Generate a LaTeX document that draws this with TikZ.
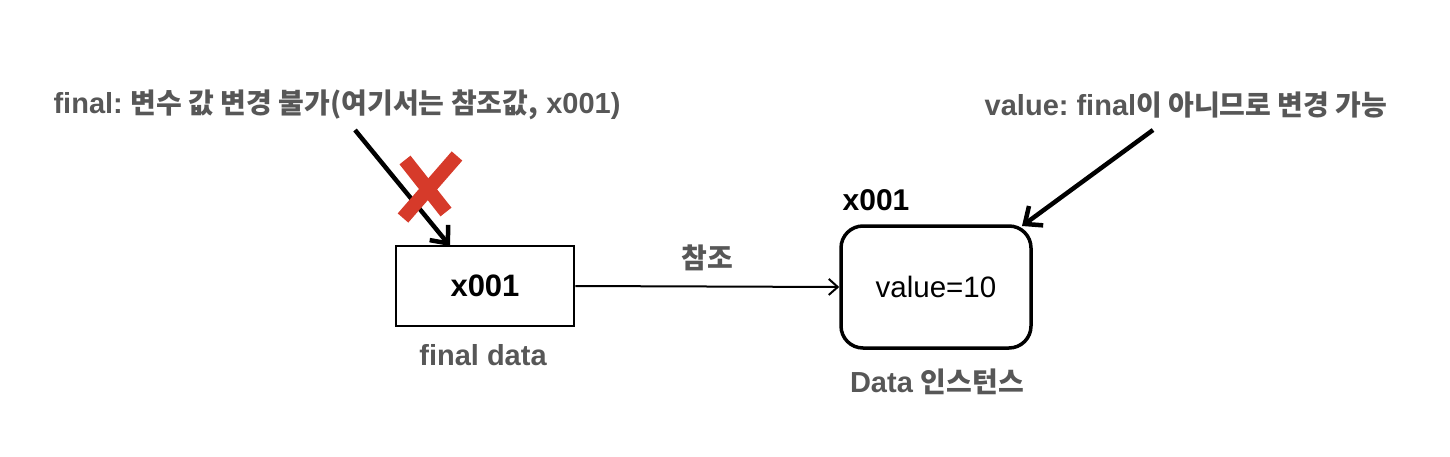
\documentclass[tikz,border=0pt]{standalone}
\usepackage{fontspec}
\setmainfont{Liberation Sans}
\newfontfamily\kr{Noto Sans CJK KR}
\frenchspacing
\newcommand{\krt}[1]{{\kr\fontsize{28}{32}\selectfont\bfseries #1}}
\usetikzlibrary{arrows.meta}
\definecolor{lblgray}{HTML}{575757}
\definecolor{xred}{HTML}{D63A2A}
\tikzset{
  lbl/.style={text=lblgray, font=\fontsize{29}{33}\selectfont\bfseries\frenchspacing, inner sep=0pt, anchor=center},
  thinarrow/.style={line width=2pt, -{Straight Barb[length=9pt,width=16pt,line width=2pt]}},
  thickarrow/.style={line width=4.5pt, -{Straight Barb[length=14pt,width=24pt,line width=4.5pt]}},
  refbox/.style={draw, line width=2.5pt, minimum width=178pt, minimum height=80pt, inner sep=0pt},
  objbox/.style={draw, line width=3.5pt, rounded corners=22pt, minimum width=190pt, minimum height=122pt, inner sep=0pt},
}
\begin{document}
\begin{tikzpicture}[x=1pt,y=1pt]
\useasboundingbox (0,0) rectangle (1450,456);
% left box
\node[refbox, font=\fontsize{31}{35}\selectfont\bfseries] (ref) at (485,170) {x001};
\node[lbl] (refname) at (483,101) {final data};
% right box
\node[objbox, font=\fontsize{29.5}{33}\selectfont] (obj) at (936,169) {value=10};
\node[font=\fontsize{30}{34}\selectfont\bfseries, inner sep=0pt] (addr) at (876,256) {x001};
\node[lbl] (objname) at (937,74) {Data \krt{인스턴스}};
% reference arrow
\draw[thinarrow] (ref.east) -- (obj.west);
\node[lbl] (reflbl) at (707,198) {\krt{참조}};
% top-left comment
\node[lbl] (c1) at (337,351) {final: \krt{변수 값 변경 불가(여기서는 참조값,} x001)};
\coordinate (c1s) at (355,326);
\coordinate (c1t) at (450,210);
\draw[thickarrow] (c1s) -- (c1t);
% red X
\draw[xred, line width=14pt] (457,300) -- (403,238);
\draw[xred, line width=14pt] (405,296) -- (446,244);
% top-right comment
\node[lbl] (c2) at (1186,351) {value: final\krt{이 아니므로 변경 가능}};
\coordinate (c2s) at (1153,326);
\coordinate (c2t) at (1022,230);
\draw[thickarrow] (c2s) -- (c2t);
\end{tikzpicture}
\end{document}
